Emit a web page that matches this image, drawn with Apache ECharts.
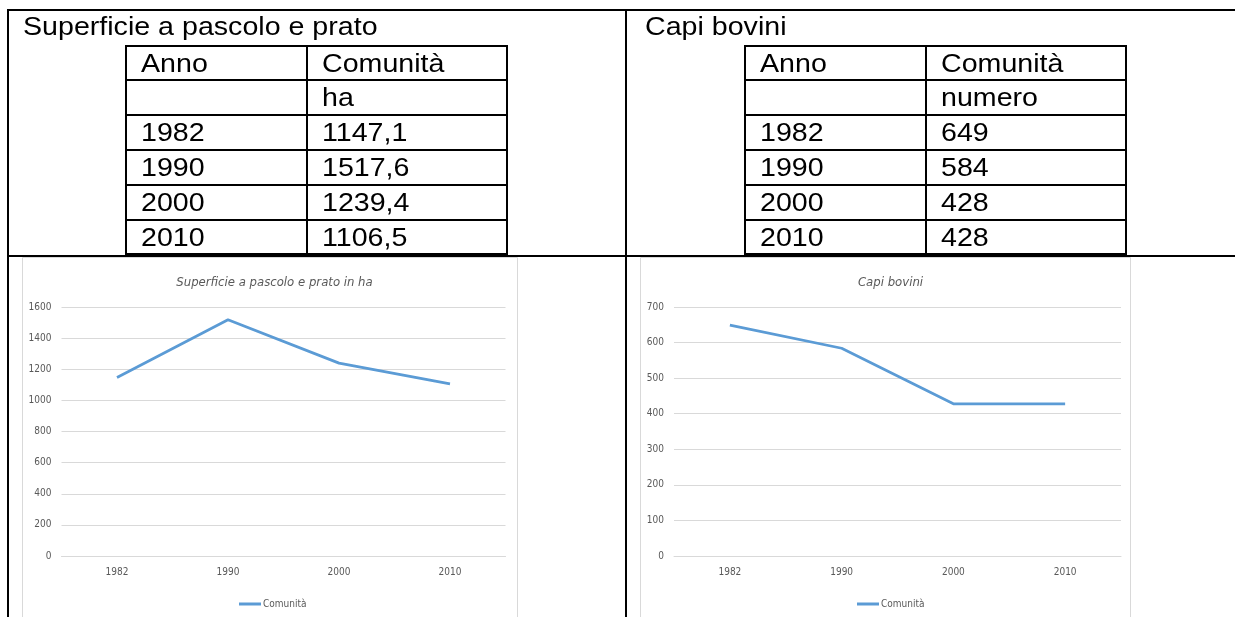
<!DOCTYPE html>
<html>
<head>
<meta charset="utf-8">
<script src="https://cdn.jsdelivr.net/npm/echarts@6/dist/echarts.min.js"></script>
<style>
  html, body { margin: 0; padding: 0; background: #fff; }
  #main { width: 1235px; height: 617px; }
</style>
</head>
<body>
<div id="main"></div>
<script>
const anni = ['1982', '1990', '2000', '2010']
const superficie = [1147.1, 1517.6, 1239.4, 1106.5] // ha
const bovini = [649, 584, 428, 428] // numero
const titoliTabelle = ['Superficie a pascolo e prato', 'Capi bovini']
const titoliGrafici = ['Superficie a pascolo e prato in ha', 'Capi bovini']
const intestazione = ['Anno', 'Comunità']
const unita = ['ha', 'numero']
const nomeSerie = 'Comunità'

const TABLE_FONT = "26px 'Liberation Sans', Arial, sans-serif"
const CHART_FONT = "'Liberation Sans Narrow', 'DejaVu Sans Condensed', sans-serif"
const BLU = '#5B9BD5'
const GRIGIO = '#d9d9d9'
const TESTO = '#595959'

// bordi orizzontali delle tabelline (y)
const rowLines = [46, 80, 115, 150, 185, 220, 254]

function line (x1, y1, x2, y2, color, w) {
  return {
    type: 'line', silent: true, z: 10,
    shape: { x1, y1, x2, y2 },
    style: { stroke: color || '#000', lineWidth: w || 2 }
  }
}

function text (x, y, s) {
  return {
    type: 'text', silent: true, x, y, scaleX: 1.1, z: 10,
    style: { text: s, font: TABLE_FONT, fill: '#000', verticalAlign: 'middle' }
  }
}

function tabella (cols, titleX, titolo, unit, valori) {
  let els = [text(titleX, 28, titolo)]
  rowLines.forEach(y => els.push(line(cols[0] - 1, y, cols[2] + 1, y)))
  cols.forEach(x => els.push(line(x, rowLines[0] - 1, x, rowLines[rowLines.length - 1] + 1)))
  let righe = [intestazione, ['', unit]].concat(anni.map((a, i) => [a, valori[i]]))
  righe.forEach((r, i) => {
    let yc = (rowLines[i] + rowLines[i + 1]) / 2 + 1.5
    els.push(text(cols[0] + 15, yc, r[0]))
    els.push(text(cols[1] + 15, yc, r[1]))
  })
  return els
}

let graphic = [
  // cornice del documento
  line(7, 10, 1235, 10),
  line(8, 9, 8, 617),
  line(626, 9, 626, 617),
  line(7, 256, 1235, 256),
  // bordo dei grafici
  { type: 'rect', silent: true, shape: { x: 22.5, y: 257.5, width: 495, height: 380 },
    style: { fill: 'none', stroke: GRIGIO, lineWidth: 1 } },
  { type: 'rect', silent: true, shape: { x: 640.5, y: 257.5, width: 490, height: 380 },
    style: { fill: 'none', stroke: GRIGIO, lineWidth: 1 } }
]
graphic = graphic.concat(
  tabella([126, 307, 507], 23, titoliTabelle[0], unita[0],
    superficie.map(v => v.toFixed(1).replace('.', ','))),
  tabella([745, 926, 1126], 645, titoliTabelle[1], unita[1],
    bovini.map(v => String(v)))
)

const chart = echarts.init(document.getElementById('main'))

const labelStyle = { color: TESTO, fontFamily: CHART_FONT, fontSize: 10 }

chart.setOption({
  animation: false,
  backgroundColor: '#fff',
  title: [
    { text: titoliGrafici[0], left: 269.5, top: 271, textAlign: 'center' },
    { text: titoliGrafici[1], left: 885.5, top: 271, textAlign: 'center' }
  ].map(t => Object.assign(t, {
    textStyle: { color: TESTO, fontFamily: CHART_FONT, fontSize: 13, fontStyle: 'italic', fontWeight: 'normal' }
  })),
  legend: [
    { left: 234, top: 594 },
    { left: 852, top: 594 }
  ].map(l => Object.assign(l, {
    data: [nomeSerie], icon: 'rect', itemWidth: 22, itemHeight: 3, itemGap: 2,
    textStyle: Object.assign({ padding: [0, 0, 0, -3] }, labelStyle)
  })),
  grid: [
    { left: 61.5, right: 1235 - 505.5, top: 307, bottom: 617 - 556 },
    { left: 674, right: 1235 - 1121, top: 307, bottom: 617 - 556 }
  ],
  xAxis: [0, 1].map(i => ({
    gridIndex: i, type: 'category', data: anni, boundaryGap: true,
    axisLine: { show: true, lineStyle: { color: GRIGIO, width: 1 } },
    axisTick: { show: false },
    axisLabel: Object.assign({ margin: 11 }, labelStyle)
  })),
  yAxis: [
    { gridIndex: 0, min: 0, max: 1600, interval: 200 },
    { gridIndex: 1, min: 0, max: 700, interval: 100 }
  ].map(a => Object.assign(a, {
    type: 'value',
    axisLine: { show: false },
    axisTick: { show: false },
    splitLine: { lineStyle: { color: GRIGIO, width: 1 } },
    axisLabel: Object.assign({ margin: 10, formatter: v => String(v) }, labelStyle)
  })),
  series: [
    { data: superficie, xAxisIndex: 0, yAxisIndex: 0 },
    { data: bovini, xAxisIndex: 1, yAxisIndex: 1 }
  ].map(s => Object.assign(s, {
    type: 'line', name: nomeSerie, symbol: 'none',
    lineStyle: { color: BLU, width: 2.75 },
    itemStyle: { color: BLU }
  })),
  graphic: graphic
})
</script>
</body>
</html>
